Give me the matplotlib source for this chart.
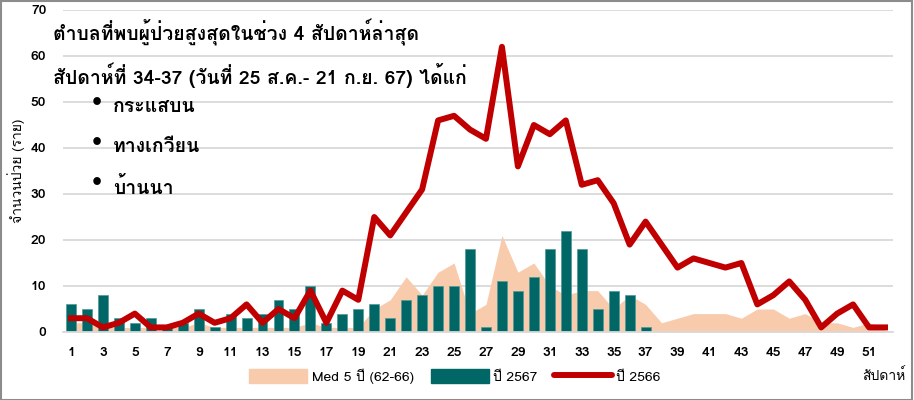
import matplotlib
matplotlib.use("Agg")
import matplotlib.pyplot as plt
import matplotlib.font_manager as fm
from matplotlib.ft2font import FT2Font
from matplotlib.patches import Patch, Rectangle
from matplotlib.lines import Line2D

# ---- data ----
weeks = list(range(1, 53))
median_5y = [2, 2, 1, 1, 1, 1, 1, 1, 2, 1, 1, 1, 1, 1, 1, 2, 1, 1, 1, 5,
             7, 12, 8, 13, 15, 4, 6, 21, 13, 15, 10, 8, 9, 9, 5, 8, 6, 2, 3, 4,
             4, 4, 3, 5, 5, 3, 4, 2, 2, 1, 2, 1]
weeks_2567 = list(range(1, 38))
cases_2567 = [6, 5, 8, 3, 2, 3, 1, 2, 5, 1, 4, 3, 4, 7, 5, 10, 2, 4, 5, 6,
              3, 7, 8, 10, 10, 18, 1, 11, 9, 12, 18, 22, 18, 5, 9, 8, 1]
cases_2566 = [3, 3, 1, 2, 4, 1, 1, 2, 4, 2, 3, 6, 2, 5, 3, 9, 2, 9, 7, 25,
              21, 26, 31, 46, 47, 44, 42, 62, 36, 45, 43, 46, 32, 33, 28, 19, 24, 19, 14, 16,
              15, 14, 15, 6, 8, 11, 7, 1, 4, 6, 1, 1]
xtick_weeks = list(range(1, 52, 2))
title_lines = ["ตำบลที่พบผู้ป่วยสูงสุดในช่วง 4 สัปดาห์ล่าสุด",
               "สัปดาห์ที่ 34-37 (วันที่ 25 ส.ค.- 21 ก.ย. 67) ได้แก่"]
top_tambons = ["กระแสบน", "ทางเกวียน", "บ้านนา"]

# find an installed font that has Thai glyphs
thai_font = None
for f in fm.fontManager.ttflist:
    try:
        if FT2Font(f.fname).get_char_index(0x0E01):
            thai_font = f.name
            break
    except Exception:
        pass
families = [thai_font, "DejaVu Sans"] if thai_font else ["DejaVu Sans"]
plt.rcParams["font.family"] = families

C_MED = "#F8CBAD"
C_67 = "#006666"
C_66 = "#C00000"

fig = plt.figure(figsize=(9.14, 4.0), dpi=100)
ax = fig.add_axes([63 / 914, 68 / 400, 830 / 914, 322 / 400])

ax.fill_between(weeks, median_5y, color=C_MED, lw=0, zorder=1)
ax.bar(weeks_2567, cases_2567, width=0.62, color=C_67, edgecolor="#4F9A96",
       linewidth=0.5, zorder=2)
ax.plot(weeks, cases_2566, color=C_66, lw=4.3, zorder=3)

ax.set_xlim(0.5, 52.5)
ax.set_ylim(0, 70)
ax.set_yticks(range(0, 71, 10))
ax.set_xticks(xtick_weeks)
ax.tick_params(length=0, labelsize=10)
for lab in ax.get_xticklabels() + ax.get_yticklabels():
    lab.set_fontweight("bold")
ax.tick_params(axis="x", pad=11)
ax.tick_params(axis="y", pad=12)
ax.grid(axis="y", color="#D9D9D9", lw=1.3, zorder=0)
ax.set_axisbelow(True)
for s in ["top", "right", "left"]:
    ax.spines[s].set_visible(False)
ax.spines["bottom"].set_color("#D9D9D9")
ax.spines["bottom"].set_linewidth(1.3)

ax.set_ylabel("จำนวนป่วย (ราย)", fontsize=10, labelpad=4)

# title block inside the plot
fig.text(53 / 914, 1 - 33 / 400, title_lines[0], fontsize=14, fontweight="bold",
         va="center", ha="left")
fig.text(53 / 914, 1 - 75 / 400, title_lines[1], fontsize=14, fontweight="bold",
         va="center", ha="left")
for i, name in enumerate(top_tambons):
    y = 1 - (107 + i * 40) / 400
    fig.text(92 / 914, y + 0.012, "•", fontsize=16, va="center", ha="left")
    fig.text(113 / 914, y, name, fontsize=14, fontweight="bold",
             va="center", ha="left")

handles = [Patch(color=C_MED, label="Med 5 ปี (62-66)"),
           Patch(color=C_67, label="ปี 2567"),
           Line2D([0], [0], color=C_66, lw=4.3, solid_capstyle="round", label="ปี 2566")]
fig.legend(handles=handles, loc="center", bbox_to_anchor=(455 / 914, 1 - 376 / 400),
           ncol=3, frameon=False, fontsize=10, handlelength=4.2, handleheight=1.1,
           columnspacing=1.2, handletextpad=0.3)
fig.text(905 / 914, 1 - 376 / 400, "สัปดาห์", fontsize=10, ha="right", va="center")

fig.patches.append(Rectangle((0.001, 0.001), 0.997, 0.997, transform=fig.transFigure,
                             fill=False, edgecolor="#8C8C8C", lw=1.5))

fig.savefig("out.png", dpi=100)
